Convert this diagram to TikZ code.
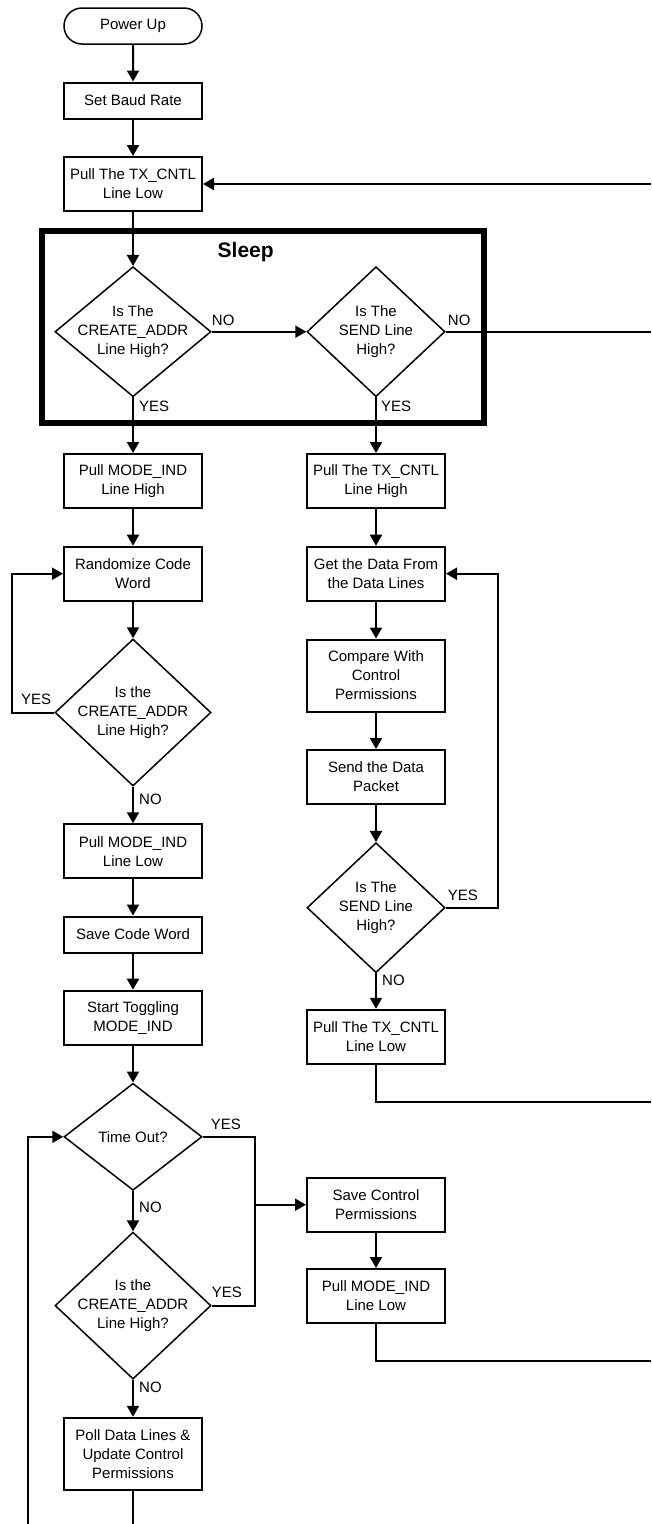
\documentclass[tikz,border=0pt]{standalone}
\usepackage{fontspec}
\setmainfont{Liberation Sans}
\usetikzlibrary{arrows.meta,shapes.geometric,shapes.misc}
\newcommand{\flowfont}{\fontsize{15}{19}\selectfont}
\begin{document}
\begin{tikzpicture}[x=1pt,y=-1pt,
  box/.style={draw, line width=2pt, minimum width=138pt, align=center, inner sep=0pt, font=\flowfont},
  term/.style={draw, rounded rectangle, line width=1.5pt, minimum width=138pt, minimum height=36pt, inner sep=0pt, font=\flowfont},
  dia/.style={draw, diamond, line width=1.5pt, inner sep=0pt},
  dtext/.style={align=center, inner sep=0pt, font=\flowfont},
  lab/.style={inner sep=0pt, font=\flowfont},
  conn/.style={line width=2pt},
  arr/.style={conn, -{Triangle[length=11pt,width=12pt]}},
  frame/.style={draw, line width=6pt, inner sep=0pt}]
\useasboundingbox (0,0) rectangle (651,1524);

% Sleep frame
\node[frame, minimum width=441.9pt, minimum height=191.7pt] (sleep) at (263.25,326.85) {};
\node[font=\fontsize{21}{24}\selectfont\bfseries, inner sep=0pt] (sleeplab) at (245.7,251.7) {Sleep};

% Left column
\node[term] (power) at (133,26) {Power Up};
\node[box, minimum height=36pt] (baud) at (133,100.5) {Set Baud Rate};
\node[box, minimum height=54pt] (txlow) at (133,184) {Pull The TX\_CNTL\\Line Low};
\node[dia, minimum width=156pt, minimum height=130pt] (d1) at (133,331.7) {};
\node[dtext] (d1t) at (d1) {Is The\\CREATE\_ADDR\\Line High?};
\node[box, minimum height=54pt] (modehigh) at (133,481) {Pull MODE\_IND\\Line High};
\node[box, minimum height=54pt] (rand) at (133,573.7) {Randomize Code\\Word};
\node[dia, minimum width=156pt, minimum height=147pt] (d3) at (133,712.5) {};
\node[dtext] (d3t) at (d3) {Is the\\CREATE\_ADDR\\Line High?};
\node[box, minimum height=54pt] (modelow) at (133,851.3) {Pull MODE\_IND\\Line Low};
\node[box, minimum height=36pt] (savecode) at (133,934.5) {Save Code Word};
\node[box, minimum height=54pt] (toggle) at (133,1017.7) {Start Toggling\\MODE\_IND};
\node[dia, minimum width=138pt, minimum height=107pt] (d5) at (133,1136.8) {};
\node[dtext] (d5t) at (d5) {Time Out?};
\node[dia, minimum width=156pt, minimum height=147pt] (d6) at (133,1305.6) {};
\node[dtext] (d6t) at (d6) {Is the\\CREATE\_ADDR\\Line High?};
\node[box, minimum height=72pt] (poll) at (133,1453.8) {Poll Data Lines \&\\Update Control\\Permissions};

% Right column
\node[dia, minimum width=138pt, minimum height=130pt] (d2) at (376,331.7) {};
\node[dtext] (d2t) at (d2) {Is The\\SEND Line\\High?};
\node[box, minimum height=54pt] (txhigh) at (376,481) {Pull The TX\_CNTL\\Line High};
\node[box, minimum height=54pt] (getdata) at (376,573.7) {Get the Data From\\the Data Lines};
\node[box, minimum height=72pt] (compare) at (376,675.5) {Compare With\\Control\\Permissions};
\node[box, minimum height=54pt] (send) at (376,777) {Send the Data\\Packet};
\node[dia, minimum width=138pt, minimum height=130pt] (d4) at (376,907.7) {};
\node[dtext] (d4t) at (d4) {Is The\\SEND Line\\High?};
\node[box, minimum height=54pt] (txlow2) at (376,1036.8) {Pull The TX\_CNTL\\Line Low};
\node[box, minimum height=54pt] (savectrl) at (376,1204.7) {Save Control\\Permissions};
\node[box, minimum height=54pt] (modelow2) at (376,1296) {Pull MODE\_IND\\Line Low};

% free ends and bend coordinates
\coordinate (r0) at (651,184);
\coordinate (redge) at (651,0);
\coordinate (r1) at (651,1101.7);
\coordinate (r2) at (651,1361);
\coordinate (yesx) at (11.7,0);
\coordinate (loopx) at (498.3,0);
\coordinate (midx) at (255.3,0);
\coordinate (bl) at (28.3,1524);
\coordinate (pb) at (133,1524);

% Connectors
\draw[arr] (power) -- (baud);
\draw[arr] (baud) -- (txlow);
\draw[arr] (txlow) -- (d1.north);
\draw[arr] (r0) -- (txlow.east);
\draw[arr] (d1.east) -- (d2.west);
\draw[conn] (d2.east) -- (d2.east -| redge);
\draw[arr] (d1.south) -- (modehigh);
\draw[arr] (d2.south) -- (txhigh);
\draw[arr] (modehigh) -- (rand);
\draw[arr] (rand) -- (d3.north);
\draw[arr] (d3.west) -- (d3.west -| yesx) |- (rand.west);
\draw[arr] (d3.south) -- (modelow);
\draw[arr] (modelow) -- (savecode);
\draw[arr] (savecode) -- (toggle);
\draw[arr] (toggle) -- (d5.north);
\draw[arr] (d5.south) -- (d6.north);
\draw[conn] (d5.east) -| (midx |- d6.east) -- (d6.east);
\draw[arr] (midx |- savectrl.west) -- (savectrl.west);
\draw[arr] (d6.south) -- (poll);
\draw[conn] (poll.south) -- (pb);
\draw[arr] (bl) |- (d5.west);
\draw[arr] (txhigh) -- (getdata);
\draw[arr] (getdata) -- (compare);
\draw[arr] (compare) -- (send);
\draw[arr] (send) -- (d4.north);
\draw[arr] (d4.east) -- (d4.east -| loopx) |- (getdata.east);
\draw[arr] (d4.south) -- (txlow2);
\draw[conn] (txlow2.south) |- (r1);
\draw[arr] (savectrl) -- (modelow2);
\draw[conn] (modelow2.south) |- (r2);

% Labels
\node[lab, anchor=west] (l1) at ([yshift=11pt]d1.east) {NO};
\node[lab, anchor=west] (l2) at ([xshift=2pt,yshift=11pt]d2.east) {NO};
\node[lab, anchor=west] (l3) at ([xshift=6pt,yshift=-9pt]d1.south) {YES};
\node[lab, anchor=west] (l4) at ([xshift=5pt,yshift=-9pt]d2.south) {YES};
\node[lab, anchor=east] (l5) at ([xshift=-3pt,yshift=13pt]d3.west) {YES};
\node[lab, anchor=west] (l6) at ([xshift=6pt,yshift=-13pt]d3.south) {NO};
\node[lab, anchor=west] (l7) at ([xshift=2pt,yshift=12pt]d4.east) {YES};
\node[lab, anchor=west] (l8) at ([xshift=6pt,yshift=-7pt]d4.south) {NO};
\node[lab, anchor=west] (l9) at ([xshift=8pt,yshift=12pt]d5.east) {YES};
\node[lab, anchor=west] (l10) at ([xshift=6pt,yshift=-16pt]d5.south) {NO};
\node[lab, anchor=west] (l11) at ([xshift=0pt,yshift=13pt]d6.east) {YES};
\node[lab, anchor=west] (l12) at ([xshift=6pt,yshift=-7pt]d6.south) {NO};
\end{tikzpicture}
\end{document}
